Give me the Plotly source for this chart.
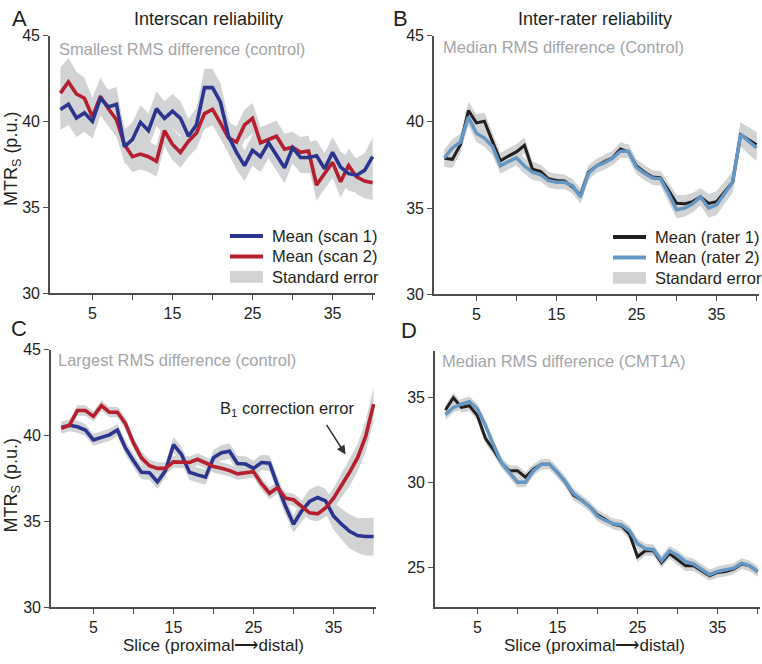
import plotly.graph_objects as go

W, H = 762, 664

slices = list(range(1, 41))

# Panel A - interscan, smallest RMS difference (control)
A_scan1 = [40.7, 41.0, 40.2, 40.5, 40.0, 41.35, 40.84, 41.0, 38.53, 38.95,
           39.95, 39.46, 40.74, 40.18, 40.6, 40.18, 39.14, 39.8, 41.97, 41.97,
           41.12, 39.14, 38.2, 37.43, 38.32, 37.95, 38.76, 38.06, 37.3, 38.47,
           37.9, 37.9, 38.0, 37.25, 38.2, 37.34, 36.96, 36.87, 37.15, 37.95]
A_scan2 = [41.65, 42.3, 41.6, 41.35, 40.27, 41.46, 40.74, 40.1, 38.66, 37.95,
           38.1, 37.95, 37.68, 39.46, 38.66, 38.2, 38.85, 39.33, 40.46, 40.7,
           39.9, 39.04, 38.8, 39.8, 40.18, 38.76, 38.95, 39.14, 38.38, 38.5,
           38.2, 38.28, 36.3, 36.96, 37.62, 36.49, 37.43, 36.77, 36.53, 36.43]
A_se1 = [1.2, 1.2, 1.1, 1.1, 1.0, 1.0, 1.0, 1.0, 1.0, 1.0,
         1.0, 1.0, 1.0, 1.0, 1.0, 1.0, 1.0, 1.0, 1.1, 1.1,
         1.1, 1.0, 1.0, 0.9, 0.9, 0.9, 0.9, 0.9, 0.9, 0.9,
         0.9, 0.9, 0.9, 0.9, 0.9, 0.9, 1.0, 1.0, 1.0, 1.1]
A_se2 = [1.5, 1.4, 1.3, 1.2, 1.1, 1.1, 1.0, 1.0, 1.0, 0.9,
         0.9, 0.9, 0.9, 0.9, 0.9, 0.9, 0.9, 0.9, 0.9, 0.9,
         0.9, 0.9, 0.9, 0.9, 0.9, 0.9, 0.9, 0.9, 0.9, 0.9,
         0.9, 0.9, 0.9, 0.9, 0.9, 0.9, 1.0, 1.0, 1.0, 1.0]

# Panel B - inter-rater, median RMS difference (control)
B_rater1 = [37.89, 37.83, 38.68, 40.66, 39.94, 40.04, 38.87, 37.74, 38.02, 38.26,
            38.64, 37.26, 37.13, 36.7, 36.6, 36.57, 36.23, 35.75, 37.08, 37.45,
            37.7, 37.92, 38.43, 38.26, 37.45, 37.08, 36.8, 36.75, 36.04, 35.28,
            35.25, 35.38, 35.66, 35.28, 35.38, 35.94, 36.5, 39.25, 38.96, 38.68]
B_rater2 = [37.92, 38.49, 38.83, 40.28, 39.34, 39.06, 38.58, 37.45, 37.7, 37.92,
            37.45, 37.08, 36.94, 36.6, 36.5, 36.5, 36.3, 35.66, 37.02, 37.45,
            37.64, 37.89, 38.3, 38.3, 37.36, 37.02, 36.75, 36.7, 35.85, 34.91,
            35.0, 35.25, 35.66, 35.0, 35.19, 35.85, 36.5, 39.28, 38.87, 38.49]
B_se1 = [0.5, 0.5, 0.5, 0.5, 0.5, 0.5, 0.5, 0.45, 0.45, 0.45,
         0.45, 0.45, 0.4, 0.4, 0.4, 0.4, 0.4, 0.4, 0.4, 0.4,
         0.4, 0.4, 0.4, 0.4, 0.4, 0.4, 0.4, 0.4, 0.45, 0.5,
         0.5, 0.5, 0.5, 0.55, 0.6, 0.6, 0.6, 0.7, 0.75, 0.75]
B_se2 = [0.5, 0.5, 0.5, 0.5, 0.5, 0.5, 0.5, 0.45, 0.45, 0.45,
         0.45, 0.45, 0.4, 0.4, 0.4, 0.4, 0.4, 0.4, 0.4, 0.4,
         0.4, 0.4, 0.4, 0.4, 0.4, 0.4, 0.4, 0.4, 0.45, 0.5,
         0.5, 0.5, 0.5, 0.55, 0.6, 0.6, 0.6, 0.7, 0.75, 0.75]

# Panel C - interscan, largest RMS difference (control)
C_scan1 = [40.47, 40.6, 40.51, 40.32, 39.75, 39.9, 40.04, 40.32, 39.28, 38.53,
           37.86, 37.83, 37.3, 37.96, 39.47, 38.9, 37.86, 37.71, 37.58, 38.71,
           39.0, 39.09, 38.37, 38.34, 38.09, 38.43, 38.39, 37.1, 35.88, 34.84,
           35.6, 36.16, 36.39, 36.2, 35.31, 34.84, 34.42, 34.18, 34.12, 34.12]
C_scan2 = [40.42, 40.6, 41.46, 41.46, 41.12, 41.74, 41.36, 41.36, 40.7, 39.57,
           38.7, 38.24, 38.09, 38.09, 38.47, 38.47, 38.43, 38.62, 38.43, 38.2,
           38.09, 37.96, 37.77, 37.83, 37.9, 37.2, 36.64, 36.96, 36.35, 36.26,
           35.88, 35.5, 35.44, 35.78, 36.35, 37.1, 37.86, 38.71, 39.94, 41.83]
C_se1 = [0.35, 0.35, 0.35, 0.35, 0.35, 0.35, 0.35, 0.35, 0.4, 0.4,
         0.4, 0.4, 0.4, 0.4, 0.45, 0.45, 0.45, 0.45, 0.45, 0.45,
         0.45, 0.45, 0.45, 0.45, 0.45, 0.45, 0.45, 0.5, 0.5, 0.5,
         0.6, 0.7, 0.7, 0.7, 0.8, 0.9, 1.0, 1.0, 1.1, 1.1]
C_se2 = [0.3, 0.3, 0.3, 0.3, 0.3, 0.3, 0.3, 0.3, 0.35, 0.35,
         0.35, 0.35, 0.35, 0.35, 0.35, 0.35, 0.35, 0.35, 0.35, 0.35,
         0.35, 0.35, 0.35, 0.35, 0.35, 0.35, 0.35, 0.35, 0.35, 0.35,
         0.4, 0.4, 0.45, 0.5, 0.6, 0.7, 0.8, 0.8, 0.9, 1.0]

# Panel D - inter-rater, median RMS difference (CMT1A)
D_rater1 = [34.24, 34.96, 34.39, 34.49, 33.91, 32.58, 31.91, 31.15, 30.68, 30.68,
            30.3, 30.77, 31.06, 31.06, 30.58, 30.01, 29.25, 28.96, 28.58, 28.1,
            27.82, 27.53, 27.44, 26.96, 25.63, 26.0, 25.97, 25.29, 25.82, 25.44,
            25.1, 25.1, 24.83, 24.52, 24.71, 24.77, 24.9, 25.21, 25.1, 24.77]
D_rater2 = [33.97, 34.39, 34.58, 34.73, 34.3, 33.34, 32.2, 31.15, 30.58, 30.01,
            30.01, 30.68, 31.06, 31.06, 30.58, 30.01, 29.34, 28.96, 28.58, 28.01,
            27.76, 27.57, 27.5, 27.15, 26.39, 26.1, 26.05, 25.4, 25.97, 25.72,
            25.34, 25.21, 24.9, 24.58, 24.77, 24.87, 24.96, 25.25, 25.1, 24.77]
D_se1 = [0.3, 0.3, 0.3, 0.3, 0.3, 0.3, 0.3, 0.3, 0.3, 0.3,
         0.3, 0.3, 0.3, 0.3, 0.3, 0.3, 0.3, 0.3, 0.3, 0.3,
         0.3, 0.3, 0.3, 0.3, 0.3, 0.3, 0.3, 0.3, 0.3, 0.3,
         0.3, 0.3, 0.3, 0.3, 0.3, 0.3, 0.3, 0.3, 0.3, 0.3]
D_se2 = [0.3, 0.3, 0.3, 0.3, 0.3, 0.3, 0.3, 0.3, 0.3, 0.3,
         0.3, 0.3, 0.3, 0.3, 0.3, 0.3, 0.3, 0.3, 0.3, 0.3,
         0.3, 0.3, 0.3, 0.3, 0.3, 0.3, 0.3, 0.3, 0.3, 0.3,
         0.3, 0.3, 0.3, 0.3, 0.3, 0.3, 0.3, 0.3, 0.3, 0.3]

x_tickvals = [5, 10, 15, 20, 25, 30, 35, 40]
x_ticktext = ["5", " ", "15", " ", "25", " ", "35", " "]

legend_A = ["Mean (scan 1)", "Mean (scan 2)", "Standard error"]
legend_B = ["Mean (rater 1)", "Mean (rater 2)", "Standard error"]

BLUE = "#2b3590"
RED = "#b51f2e"
BLACK = "#231f20"
LBLUE = "#6597c4"
BAND = "#d1d3d4"
SUBGRAY = "#a3a5a8"
AXIS = "#4d4d4d"
FONT = "Liberation Sans, Arial, sans-serif"

fig = go.Figure()


def px_x(p):
    return p / W


def px_y(p):
    return 1 - p / H


panels = {
    # key: (xaxis, yaxis, x domain px, y domain px (top,bottom), yrange)
    "A": ("x", "y", (50, 375), (28.3, 292.7), [30, 45]),
    "B": ("x2", "y2", (434, 759), (28.3, 294), [30, 45]),
    "C": ("x3", "y3", (51, 376), (350.7, 615), [30, 45]),
    "D": ("x4", "y4", (435, 760), (351.7, 615), [22.67, 37.72]),
}


def add_band(key, mean, se):
    xa, ya = panels[key][0], panels[key][1]
    upper = [m + s for m, s in zip(mean, se)]
    lower = [m - s for m, s in zip(mean, se)]
    fig.add_trace(go.Scatter(x=slices + slices[::-1], y=upper + lower[::-1],
                             fill="toself", fillcolor=BAND, line=dict(width=0),
                             mode="lines", hoverinfo="skip", showlegend=False,
                             xaxis=xa, yaxis=ya))


def add_line(key, mean, color, width, name):
    xa, ya = panels[key][0], panels[key][1]
    fig.add_trace(go.Scatter(x=slices, y=mean, mode="lines",
                             line=dict(color=color, width=width),
                             name=name, showlegend=False,
                             xaxis=xa, yaxis=ya))


# Panel A
add_band("A", A_scan1, A_se1)
add_band("A", A_scan2, A_se2)
add_line("A", A_scan2, RED, 3.6, legend_A[1])
add_line("A", A_scan1, BLUE, 3.6, legend_A[0])

# Panel B
add_band("B", B_rater1, B_se1)
add_band("B", B_rater2, B_se2)
add_line("B", B_rater1, BLACK, 3, legend_B[0])
add_line("B", B_rater2, LBLUE, 3.5, legend_B[1])

# Panel C
add_band("C", C_scan1, C_se1)
add_band("C", C_scan2, C_se2)
add_line("C", C_scan1, BLUE, 3.6, legend_A[0])
add_line("C", C_scan2, RED, 3.6, legend_A[1])

# Panel D
add_band("D", D_rater1, D_se1)
add_band("D", D_rater2, D_se2)
add_line("D", D_rater1, BLACK, 3, legend_B[0])
add_line("D", D_rater2, LBLUE, 3.5, legend_B[1])

layout_axes = {}
for i, key in enumerate(["A", "B", "C", "D"]):
    xa, ya, xd, yd, yr = panels[key]
    sfx = "" if i == 0 else str(i + 1)
    layout_axes["xaxis" + sfx] = dict(
        domain=[px_x(xd[0]), px_x(xd[1])], range=[-0.3, 40.3],
        anchor="y" + sfx, tickvals=x_tickvals, ticktext=x_ticktext,
        ticks="outside", ticklen=5, tickwidth=1.3, tickcolor=AXIS,
        showline=True, linecolor=AXIS, linewidth=1.6, showgrid=False,
        zeroline=False, tickfont=dict(size=16, color=BLACK, family=FONT))
    yvals = [25, 30, 35] if key == "D" else [30, 35, 40, 45]
    layout_axes["yaxis" + sfx] = dict(
        domain=[px_y(yd[1]), px_y(yd[0])], range=yr,
        anchor="x" + sfx, tickvals=yvals,
        ticks="outside", ticklen=5, tickwidth=1.3, tickcolor=AXIS,
        showline=True, linecolor=AXIS, linewidth=1.6, showgrid=False,
        zeroline=False, tickfont=dict(size=16, color=BLACK, family=FONT))

annotations = []
shapes = []


def text(x, y, s, size, color=BLACK, xanchor="center", angle=0):
    annotations.append(dict(x=px_x(x), y=px_y(y), xref="paper", yref="paper",
                            text=s, showarrow=False, xanchor=xanchor, yanchor="middle",
                            textangle=angle, font=dict(size=size, color=color, family=FONT)))


text(19, 11, "A", 22)
text(400, 11, "B", 22)
text(19, 329, "C", 22)
text(409, 331, "D", 22)
text(208, 11, "Interscan reliability", 18)
text(595, 11, "Inter-rater reliability", 18)
text(57, 42, "Smallest RMS difference (control)", 16.5, SUBGRAY, "left")
text(441, 40, "Median RMS difference (Control)", 16.5, SUBGRAY, "left")
text(56, 361, "Largest RMS difference (control)", 16.5, SUBGRAY, "left")
text(440, 362, "Median RMS difference (CMT1A)", 16.5, SUBGRAY, "left")
text(12, 155, "MTR<sub>S</sub> (p.u.)", 18, angle=-90)
text(12, 490, "MTR<sub>S</sub> (p.u.)", 18, angle=-90)
text(213, 654, "Slice (proximal⟶distal)", 17)
text(594, 654, "Slice (proximal⟶distal)", 17)
text(218, 412, "B<sub>1</sub> correction error", 16.5, xanchor="left")

# arrow pointing at the red curve in panel C
annotations.append(dict(x=36.5, y=38.9, xref="x3", yref="y3", ax=-20, ay=-31,
                        axref="pixel", ayref="pixel", text="", showarrow=True,
                        arrowhead=2, arrowsize=1.2, arrowwidth=1.5, arrowcolor="#333333"))


def legend_block(x0, x1, tx, rows, labels, colors):
    for (yy, lab, col) in zip(rows, labels, colors):
        if col == BAND:
            shapes.append(dict(type="rect", xref="paper", yref="paper",
                               x0=px_x(x0), x1=px_x(x1), y0=px_y(yy - 6), y1=px_y(yy + 6),
                               fillcolor=BAND, line=dict(width=0)))
        else:
            shapes.append(dict(type="line", xref="paper", yref="paper",
                               x0=px_x(x0), x1=px_x(x1), y0=px_y(yy), y1=px_y(yy),
                               line=dict(color=col, width=4)))
        text(tx, yy, lab, 16.5, xanchor="left")


legend_block(230, 263, 270, [234, 255, 276], legend_A, [BLUE, RED, BAND])
legend_block(613, 646, 653, [235, 256, 277], legend_B, [BLACK, LBLUE, BAND])

fig.update_layout(
    width=W, height=H, margin=dict(l=0, r=0, t=0, b=0),
    paper_bgcolor="white", plot_bgcolor="white",
    font=dict(family=FONT, color=BLACK),
    annotations=annotations, shapes=shapes,
    showlegend=False,
    **layout_axes,
)

fig.write_html(
    "out.html",
    config={"displayModeBar": False},
    post_script="document.body.style.margin='0';document.body.style.padding='0';"
                "document.body.style.overflow='hidden';",
)
